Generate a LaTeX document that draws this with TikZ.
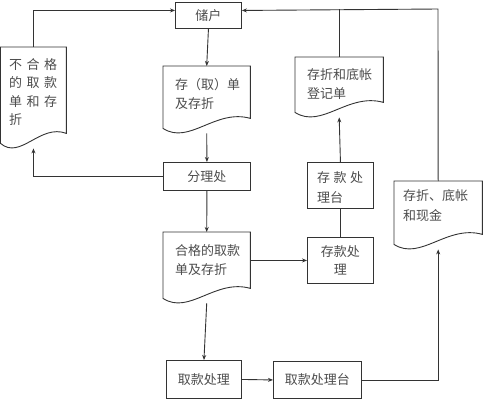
\documentclass[tikz,border=0pt]{standalone}
\usepackage{fontspec}
\newfontfamily\cjk{Noto Sans CJK SC}
\usetikzlibrary{arrows.meta,calc}
\begin{document}
\begin{tikzpicture}[x=1pt,y=-1pt,
  line/.style={draw=black!80, line width=0.9pt},
  arr/.style={line, -{Stealth[length=5pt,width=4pt]}},
  txt/.style={font=\cjk\fontsize{13}{18.5}\selectfont, text=black!70},
  box/.style={line, txt, inner sep=0pt, anchor=north west, align=center},
  docn/.style={inner sep=0pt, anchor=north west},
  dtext/.style={txt, inner sep=0pt, anchor=north west, align=left}]
\useasboundingbox (0,0) rectangle (483,400);
\newcommand\docout[1]{%
  \draw[line] (#1.north west) -- (#1.north east) -- ($(#1.south east)+(0,-15)$)
    .. controls ($(#1.south west)!0.6!(#1.south east)+(0,-25)$) and ($(#1.south west)!0.3!(#1.south east)+(0,12)$)
    .. ($(#1.south west)+(0,-5)$) -- cycle;}
% boxes
\node[box, minimum width=66pt, minimum height=26pt] (hu) at (175,2) {储户};
\node[box, minimum width=87pt, minimum height=28pt] (fl) at (163,162) {分理处};
\node[box, minimum width=75pt, minimum height=38pt] (qk) at (166,360) {取款处理};
\node[box, minimum width=88pt, minimum height=37pt] (qt) at (273,361) {取款处理台};
\node[box, minimum width=66pt, minimum height=46pt] (ct) at (307,162) {};
\node[box, minimum width=66pt, minimum height=46pt] (ck) at (307,237) {存款处\\理};
% documents
\node[docn, minimum width=65.5pt, minimum height=101pt] (dL) at (0.5,47) {};
\node[docn, minimum width=87pt, minimum height=67pt] (dQ) at (163,66) {};
\node[docn, minimum width=88pt, minimum height=60pt] (dR) at (295,57) {};
\node[docn, minimum width=87pt, minimum height=71pt] (dH) at (163,232) {};
\node[docn, minimum width=88pt, minimum height=68pt] (dC) at (394,181) {};
\docout{dL}\docout{dQ}\docout{dR}\docout{dH}\docout{dC}
% texts
\node[dtext] (tL) at (9,58) {不\hspace{4.5pt}合\hspace{4.5pt}格\\的\hspace{4.5pt}取\hspace{4.5pt}款\\单\hspace{4.5pt}和\hspace{4.5pt}存\\折};
\node[dtext] (tQ) at (175,78.5) {存（取）单\\及存折};
\node[dtext] (tR) at (307,68.5) {存折和底帐\\登记单};
\node[dtext] (tH) at (175,244.5) {合格的取款\\单及存折};
\node[dtext, font=\cjk\fontsize{13}{20}\selectfont] (tC) at (403,189) {存折、底帐\\和现金};
\node[dtext, font=\cjk\fontsize{13}{20}\selectfont] (tT) at (317,171) {存\hspace{3.5pt}款\hspace{3.5pt}处\\理台};
% connectors
\coordinate (tr) at (438,9);
\draw[arr] (dL.north) |- ([yshift=5pt]hu.west);
\draw[arr] (fl.west) -| (dL.south);
\draw[arr] (hu.south) -- (dQ.north);
\draw[arr] (dQ.south) -- (fl.north);
\draw[arr] (fl.south) -- (dH.north);
\draw[arr] (dH.south) -- (qk.north);
\draw[arr] (qk.east) -- (qt.west);
\draw[arr] (qt.east) -| (dC.south);
\draw[arr] (dC.north) -- (tr) -- ([yshift=5pt]hu.east);
\draw[line] (dR.north) -- (dR.north |- tr);
\draw[arr] (ct.north) -- (dR.south);
\draw[line] (ct.south) -- (ck.north);
\draw[arr] (dH.east |- ck.west) -- (ck.west);
\end{tikzpicture}
\end{document}
